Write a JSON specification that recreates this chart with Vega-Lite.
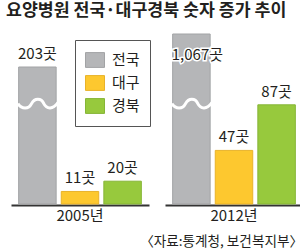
{
  "$schema": "https://vega.github.io/schema/vega-lite/v6.json",
  "padding": {"left": 6, "top": 2, "right": 2, "bottom": 0},
  "background": "white",
  "title": {"text": "요양병원 전국·대구경북 숫자 증가 추이", "anchor": "start", "dx": -5, "font": "Noto Sans CJK KR", "fontSize": 17.3, "fontWeight": "bold", "color": "#231f20", "offset": 14},
  "data": {"values": [
    {"year": "2005년", "region": "전국", "value": 203, "label": "203곳"},
    {"year": "2005년", "region": "대구", "value": 11, "label": "11곳"},
    {"year": "2005년", "region": "경북", "value": 20, "label": "20곳"},
    {"year": "2012년", "region": "전국", "value": 1067, "label": "1,067곳"},
    {"year": "2012년", "region": "대구", "value": 47, "label": "47곳"},
    {"year": "2012년", "region": "경북", "value": 87, "label": "87곳"}
  ]},
  "facet": {"column": {"field": "year", "type": "nominal", "title": "〈자료:통계청, 보건복지부〉",
    "header": {"labelOrient": "bottom", "titleOrient": "bottom", "titleAnchor": "end", "labelFont": "Liberation Sans Narrow, Noto Sans CJK KR", "labelFontSize": 15, "labelColor": "#231f20", "labelPadding": 4, "titleFont": "Noto Sans CJK KR", "titleFontSize": 13.6, "titleFontWeight": "normal", "titleColor": "#231f20", "titlePadding": 1}}},
  "spacing": 16,
  "spec": {
    "width": 138,
    "height": 170,
    "layer": [
      {"mark": {"type": "bar", "strokeWidth": 1},
       "encoding": {
         "x": {"field": "region", "type": "nominal", "sort": ["전국", "대구", "경북"], "scale": {"paddingInner": 0.12, "paddingOuter": 0.18},
               "axis": {"title": null, "labels": false, "ticks": false, "domainColor": "#333333", "domainWidth": 2}},
         "y": {"field": "value", "type": "quantitative", "scale": {"domain": [0, 100, 203, 1067], "range": [170, 56, 33, 0], "nice": false, "zero": false}, "axis": null},
         "fill": {"field": "region", "type": "nominal", "sort": ["전국", "대구", "경북"],
                  "scale": {"domain": ["전국", "대구", "경북"], "range": ["#b5b6b8", "#fdc82f", "#97c93d"]},
                  "legend": {"title": null, "orient": "none", "legendX": 64, "legendY": 6, "strokeColor": "#555555", "fillColor": "white", "padding": 10,
                             "symbolType": "M-1,-0.78H1V0.78H-1Z", "symbolSize": 361, "symbolStrokeWidth": 1, "rowPadding": 3, "labelOffset": 7,
                             "labelFont": "Noto Sans CJK KR", "labelFontSize": 15, "labelColor": "#231f20"}},
         "stroke": {"field": "region", "type": "nominal", "scale": {"domain": ["전국", "대구", "경북"], "range": ["#a2a3a5", "#e8b22a", "#86b536"]}, "legend": null}
       }},
      {"transform": [{"filter": "datum.region === '전국'"}],
       "mark": {"type": "point", "shape": "M-1,0C-0.8,0.3 -0.45,0.3 -0.3,0C-0.15,-0.3 0.2,-0.3 0.33,0C0.48,0.3 0.8,0.3 1.05,-0.05", "filled": false, "stroke": "white", "strokeWidth": 3, "opacity": 1, "size": 1521},
       "encoding": {
         "x": {"field": "region", "type": "nominal", "sort": ["전국", "대구", "경북"]},
         "y": {"datum": 88, "type": "quantitative"}
       }},
      {"transform": [{"filter": "datum.value < 1000"}],
       "mark": {"type": "text", "baseline": "alphabetic", "dy": -8, "font": "Liberation Sans Narrow, Noto Sans CJK KR", "fontSize": 15, "color": "#231f20"},
       "encoding": {
         "x": {"field": "region", "type": "nominal", "sort": ["전국", "대구", "경북"]},
         "y": {"field": "value", "type": "quantitative"},
         "text": {"field": "label"}
       }},
      {"transform": [{"filter": "datum.value >= 1000"}],
       "mark": {"type": "text", "baseline": "alphabetic", "dy": 26, "dx": 6, "font": "Liberation Sans Narrow, Noto Sans CJK KR", "fontSize": 15, "color": "white", "stroke": "white", "strokeWidth": 3},
       "encoding": {
         "x": {"field": "region", "type": "nominal", "sort": ["전국", "대구", "경북"]},
         "y": {"field": "value", "type": "quantitative"},
         "text": {"field": "label"}
       }},
      {"transform": [{"filter": "datum.value >= 1000"}],
       "mark": {"type": "text", "baseline": "alphabetic", "dy": 26, "dx": 6, "font": "Liberation Sans Narrow, Noto Sans CJK KR", "fontSize": 15, "color": "#231f20"},
       "encoding": {
         "x": {"field": "region", "type": "nominal", "sort": ["전국", "대구", "경북"]},
         "y": {"field": "value", "type": "quantitative"},
         "text": {"field": "label"}
       }}
    ]
  },
  "config": {"view": {"stroke": null}}
}
